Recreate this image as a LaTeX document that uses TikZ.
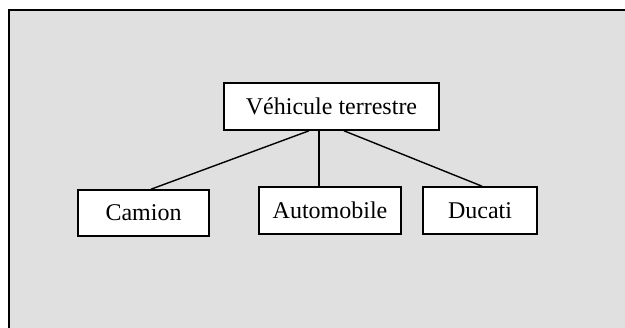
\documentclass[tikz,border=0pt]{standalone}
\usepackage{fontspec}
\setmainfont{Liberation Serif}
\definecolor{fond}{HTML}{E0E0E0}
\begin{document}
\begin{tikzpicture}[x=0.5pt,y=-0.5pt,
  boite/.style={draw, line width=0.8pt, fill=white, minimum height=23.5pt, inner sep=0pt, font=\fontsize{12}{14}\selectfont},
  lien/.style={line width=0.7pt}]
 	\useasboundingbox (0,0) rectangle (625,327);
 	\fill [fond] (9,10) rectangle (626,328);
 	\draw [line width=1.1pt] (9,328) -- (9,10) -- (626,10);
 	
 	\node [boite, minimum width=107.5pt] (vt) at (331.5,106.5) {Véhicule terrestre};
 	\node [boite, minimum width=65.5pt, minimum height=23pt] (cam) at (143.5,213) {Camion};
 	\node [boite, minimum width=71pt] (auto) at (330,210.5) {Automobile};
 	\node [boite, minimum width=57pt] (duc) at (480,210.5) {Ducati};
 	
 	\draw [lien] ([xshift=-11.25pt]vt.south) -- ([xshift=3.75pt]cam.north);
 	\draw [lien] ([xshift=-6.25pt]vt.south) -- ([xshift=-5.5pt]auto.north);
 	\draw [lien] ([xshift=6.25pt]vt.south) -- ([xshift=1pt]duc.north);
\end{tikzpicture}
\end{document}
